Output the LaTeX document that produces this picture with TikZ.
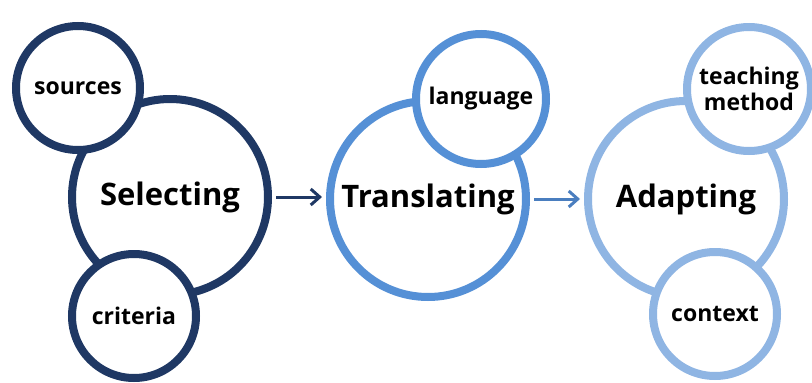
\documentclass[tikz,border=0pt]{standalone}
\usepackage{fontspec}
\setmainfont{Open Sans}
\usetikzlibrary{arrows.meta}

\definecolor{navy}{HTML}{1F3864}
\definecolor{midblue}{HTML}{5590D6}
\definecolor{arrowblue}{HTML}{4A7EBF}
\definecolor{paleblue}{HTML}{8FB5E3}

\begin{document}
\begin{tikzpicture}[x=1pt, y=-1pt,
    bigc/.style={circle, draw=#1, line width=8pt, fill=white, minimum size=196pt, inner sep=0pt,
        font=\fontsize{31}{34}\selectfont\bfseries},
    smallc/.style={circle, draw=#1, line width=8pt, fill=white, minimum size=124pt, inner sep=0pt,
        align=center, font=\fontsize{23}{26}\selectfont\bfseries},
    flow/.style={line width=3pt, -{Straight Barb[length=9pt, width=16pt, line width=3pt]}} ]
    \useasboundingbox (0, 0) rectangle (812, 383);

    % --- Selecting ---
    \node[bigc=navy] (sel) at (170, 197) {Selecting};
    \node[smallc=navy] (src) at (78, 88) {sources};
    \node[smallc=navy] (crit) at (134, 316) {criteria};

    % --- Translating ---
    \node[bigc=midblue] (trans) at (428, 199) {Translating};
    \node[smallc=midblue, minimum size=130pt] (lang) at (481, 99) {language};

    % --- Adapting ---
    \node[bigc=paleblue] (adapt) at (686, 199) {Adapting};
    \node[smallc=paleblue] (teach) at (749, 89) {teaching\\method};
    \node[smallc=paleblue] (ctx) at (715, 314) {context};

    \draw[flow, navy] ([xshift=4pt]sel.east) -- ([xshift=-4pt]sel.east -| trans.west);
    \draw[flow, arrowblue] ([xshift=4pt]trans.east) -- ([xshift=-4pt]adapt.west);
\end{tikzpicture}
\end{document}
